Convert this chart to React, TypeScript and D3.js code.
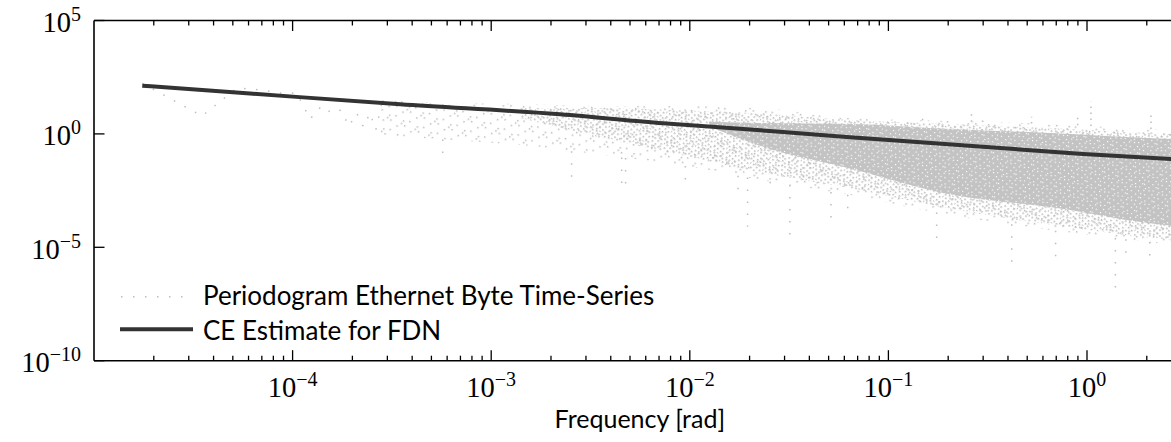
import React from 'react';
import * as d3 from 'd3';

// ---------- data ----------
// CE estimate for FDN: frequency [rad] and spectral density
const ceFreq = [1.75e-5, 6.1e-5, 3.48e-4, 2.22e-3, 7.33e-3, 0.0284, 0.0641, 0.299, 0.955, 2.65, 3.1416];
const cePsd = [133, 60.4, 20.2, 7.31, 2.93, 1.25, 0.708, 0.273, 0.13, 0.0782, 0.0724];

// Periodogram: first Fourier frequencies (k * f1) read individually
const periodF1 = 1.75e-5;
const periodK = [1, 2, 3, 4, 5, 6, 7, 8, 9, 10, 11, 12, 13, 14, 15, 16];
const periodPower = [170, 6.2, 106, 86, 63, 63, 4.5, 17, 8.3, 11.3, 2.2, 8.3, 2.0, 8.3, 1.5, 18.6];

// Periodogram cloud envelopes (higher frequencies)
const sparseFreq = [2.75e-4, 6.2e-4, 1.4e-3, 3.53e-3, 8.9e-3, 0.0226, 0.064, 0.204, 0.652, 2.65, 3.1416];
const sparseHigh = [31, 23, 21, 17, 17, 14, 5.0, 3.7, 2.75, 1.48, 1.45];
const sparseLow = [0.89, 0.54, 0.32, 0.12, 0.043, 0.0093, 0.002, 2.6e-4, 5.8e-5, 1.3e-5, 1.1e-5];

const mediumFreq = [1.4e-3, 3.53e-3, 8.9e-3, 0.0226, 0.064, 0.204, 0.652, 2.65, 3.1416];
const mediumHigh = [14, 14, 11, 8.0, 4.1, 2.75, 1.8, 1.0, 0.98];
const mediumLow = [5.0, 0.7, 0.12, 0.02, 0.004, 5.0e-4, 1.0e-4, 2.2e-5, 2.0e-5];

const denseFreq = [0.0125, 0.0226, 0.064, 0.204, 0.652, 2.65, 3.1416];
const denseHigh = [3.4, 3.0, 2.75, 1.66, 1.1, 0.6, 0.58];
const denseLow = [2.2, 0.3, 0.03, 0.0022, 6.0e-4, 9.0e-5, 8.0e-5];

// isolated dips and peaks of the periodogram
const dipFreq = [5.7e-4, 2.54e-3, 4.54e-3, 4.75e-3, 9.5e-3, 0.0175, 0.01954, 0.0254, 0.0319, 0.0514, 0.0624, 0.175, 0.418, 0.695, 1.39, 1.57, 2.07];
const dipPower = [0.071, 0.0115, 0.0034, 0.0034, 0.0066, 0.0025, 8.1e-5, 0.0025, 2.95e-5, 9.5e-5, 2.2e-4, 1.66e-5, 1.0e-6, 2.0e-6, 1.4e-7, 2.0e-6, 2.2e-6];
const peakFreq = [0.1486, 0.262, 0.298, 0.526, 0.897, 1.047, 2.1];
const peakPower = [5.75, 8.3, 5.75, 5.75, 5.75, 26.3, 6.8];

const xTickExps = [-4, -3, -2, -1, 0];
const yTickExps = [-10, -5, 0, 5];

const legendLabels = ['Periodogram Ethernet Byte Time-Series', 'CE Estimate for FDN'];
const xAxisLabel = 'Frequency [rad]';

// ---------- layout / style ----------
const W = 1171;
const H = 442;
const LEFT = 94;
const TOP = 20.5;
const BOTTOM = 360.7;
const DECADE_PX = 198.6;
const X_MIN = 1e-5;
const X_MAX = Math.PI;
const Y_MIN = 1e-10;
const Y_MAX = 1e5;

const GREY = '#bdbdbd';
const DARK = '#333333';
const SERIF = '"Liberation Serif", "DejaVu Serif", serif';
const SANS = 'Lato, "Open Sans", "DejaVu Sans", sans-serif';

// texture dot positions inside pattern tiles (pure styling)
const sparseTile = [[1, 2], [9, 5], [4, 11], [13, 13], [12, 1]];
const mediumTile = [[0, 1], [4, 0], [8, 2], [11, 0], [2, 4], [6, 5], [10, 6], [1, 8], [5, 9], [9, 10], [3, 12], [7, 13], [12, 11], [13, 4], [6, 2]];
const denseHoles = [[1, 1], [6, 0], [10, 3], [3, 5], [8, 7], [12, 9], [0, 9], [5, 11], [10, 13], [13, 5], [2, 13]];

function edgeAt(freqs: number[], vals: number[], f: number) {
  const s = d3.scaleLog().domain(freqs).range(vals.map((v) => Math.log10(v))).clamp(true);
  return Math.pow(10, s(f));
}

export default function App() {
  const RIGHT = LEFT + DECADE_PX * Math.log10(X_MAX / X_MIN);
  const x = d3.scaleLog().domain([X_MIN, X_MAX]).range([LEFT, RIGHT]);
  const y = d3.scaleLog().domain([Y_MIN, Y_MAX]).range([BOTTOM, TOP]);

  const ceLine = d3
    .line<number>()
    .x((_, i) => x(ceFreq[i]))
    .y((d) => y(d))
    .curve(d3.curveMonotoneX)(cePsd) as string;

  const lowLine = d3
    .line<number>()
    .x((_, i) => x(periodK[i] * periodF1))
    .y((d) => y(d))(periodPower) as string;

  const band = (freqs: number[], hi: number[], lo: number[]) =>
    d3
      .area<number>()
      .x((f) => x(f))
      .y0((_, i) => y(lo[i]))
      .y1((_, i) => y(hi[i]))
      .curve(d3.curveMonotoneX)(freqs) as string;

  const ticks = x.ticks().filter((t) => t > X_MIN * 1.001 && t <= X_MAX);
  const isMajor = (t: number) => Math.abs(Math.log10(t) - Math.round(Math.log10(t))) < 1e-6;

  const expText = (e: number) => (e < 0 ? '\u2212' + Math.abs(e) : String(e));

  return (
    <svg
      width={W}
      height={H}
      viewBox={`0 0 ${W} ${H}`}
      style={{ position: 'absolute', left: 0, top: 0, background: '#fff' }}
    >
      <defs>
        <clipPath id="plotClip">
          <rect x={LEFT} y={TOP} width={RIGHT - LEFT} height={BOTTOM - TOP} />
        </clipPath>
        <pattern id="sparseDots" width="15" height="15" patternUnits="userSpaceOnUse" patternTransform="rotate(23)">
          {sparseTile.map(([px, py], i) => (
            <rect key={i} x={px} y={py} width="1.5" height="1.5" fill={GREY} />
          ))}
        </pattern>
        <pattern id="mediumDots" width="14" height="14" patternUnits="userSpaceOnUse" patternTransform="rotate(31)">
          {mediumTile.map(([px, py], i) => (
            <rect key={i} x={px} y={py} width="1.6" height="1.6" fill={GREY} />
          ))}
        </pattern>
        <pattern id="denseDots" width="14" height="14" patternUnits="userSpaceOnUse" patternTransform="rotate(17)">
          <rect x="0" y="0" width="14" height="14" fill="#c3c3c3" />
          {denseHoles.map(([px, py], i) => (
            <rect key={i} x={px} y={py} width="1.2" height="1.2" fill="#ffffff" />
          ))}
        </pattern>
      </defs>

      <g clipPath="url(#plotClip)">
        <path d={band(sparseFreq, sparseHigh, sparseLow)} fill="url(#sparseDots)" />
        <path d={band(mediumFreq, mediumHigh, mediumLow)} fill="url(#mediumDots)" />
        <path d={band(denseFreq, denseHigh, denseLow)} fill="url(#denseDots)" />
        {dipFreq.map((f, i) => (
          <line
            key={'dip' + i}
            x1={x(f)}
            x2={x(f)}
            y1={y(edgeAt(sparseFreq, sparseLow, f))}
            y2={y(dipPower[i])}
            stroke={GREY}
            strokeWidth={1.5}
            strokeDasharray="1.5 10.5"
          />
        ))}
        {peakFreq.map((f, i) => (
          <line
            key={'peak' + i}
            x1={x(f)}
            x2={x(f)}
            y1={y(edgeAt(sparseFreq, sparseHigh, f))}
            y2={y(peakPower[i])}
            stroke={GREY}
            strokeWidth={1.5}
            strokeDasharray="1.5 4.5"
          />
        ))}
        <path d={lowLine} fill="none" stroke={GREY} strokeWidth={1.5} strokeDasharray="1.5 10.5" />
        <path d={ceLine} fill="none" stroke={DARK} strokeWidth={4} />
      </g>

      {/* spines */}
      <g stroke="#000" strokeWidth={1.6} fill="none">
        <line x1={LEFT} x2={LEFT} y1={TOP} y2={BOTTOM} />
        <line x1={LEFT} x2={RIGHT} y1={TOP} y2={TOP} />
        <line x1={LEFT} x2={RIGHT} y1={BOTTOM} y2={BOTTOM} />
        <line x1={RIGHT} x2={RIGHT} y1={TOP} y2={BOTTOM} />
      </g>

      {/* ticks */}
      <g stroke="#000" strokeWidth={1.3}>
        {ticks.map((t, i) => {
          const len = isMajor(t) ? 10.5 : 5;
          const px = x(t);
          return (
            <g key={'xt' + i}>
              <line x1={px} x2={px} y1={BOTTOM} y2={BOTTOM - len} />
              <line x1={px} x2={px} y1={TOP} y2={TOP + len} />
            </g>
          );
        })}
        {yTickExps.map((e, i) => {
          const py = y(Math.pow(10, e));
          return (
            <g key={'yt' + i}>
              <line x1={LEFT} x2={LEFT + 10.5} y1={py} y2={py} />
              <line x1={RIGHT} x2={RIGHT - 10.5} y1={py} y2={py} />
            </g>
          );
        })}
      </g>

      {/* x tick labels */}
      {xTickExps.map((e, i) => (
        <text
          key={'xl' + i}
          x={x(Math.pow(10, e))}
          y={396.5}
          textAnchor="middle"
          fontFamily={SERIF}
          fontSize={28.5}
          fill="#000"
        >
          10
          <tspan fontSize={20} dy={-11}>
            {expText(e)}
          </tspan>
        </text>
      ))}

      {/* y tick labels */}
      {yTickExps.map((e, i) => (
        <text
          key={'yl' + i}
          x={81}
          y={y(Math.pow(10, e)) + 11.5}
          textAnchor="end"
          fontFamily={SERIF}
          fontSize={28.5}
          fill="#000"
        >
          10
          <tspan fontSize={20} dy={-11}>
            {expText(e)}
          </tspan>
        </text>
      ))}

      {/* x axis label */}
      <text x={(LEFT + RIGHT) / 2} y={428} textAnchor="middle" fontFamily={SANS} fontSize={25} fill="#000">
        {xAxisLabel}
      </text>

      {/* legend */}
      <line x1={121} x2={188} y1={296.7} y2={296.7} stroke={GREY} strokeWidth={1.5} strokeDasharray="1.5 10.5" />
      <text x={203} y={304.5} fontFamily={SANS} fontSize={26} fill="#000">
        {legendLabels[0]}
      </text>
      <line x1={120} x2={193} y1={329.3} y2={329.3} stroke={DARK} strokeWidth={4} />
      <text x={203} y={339.5} fontFamily={SANS} fontSize={26} fill="#000">
        {legendLabels[1]}
      </text>
    </svg>
  );
}
